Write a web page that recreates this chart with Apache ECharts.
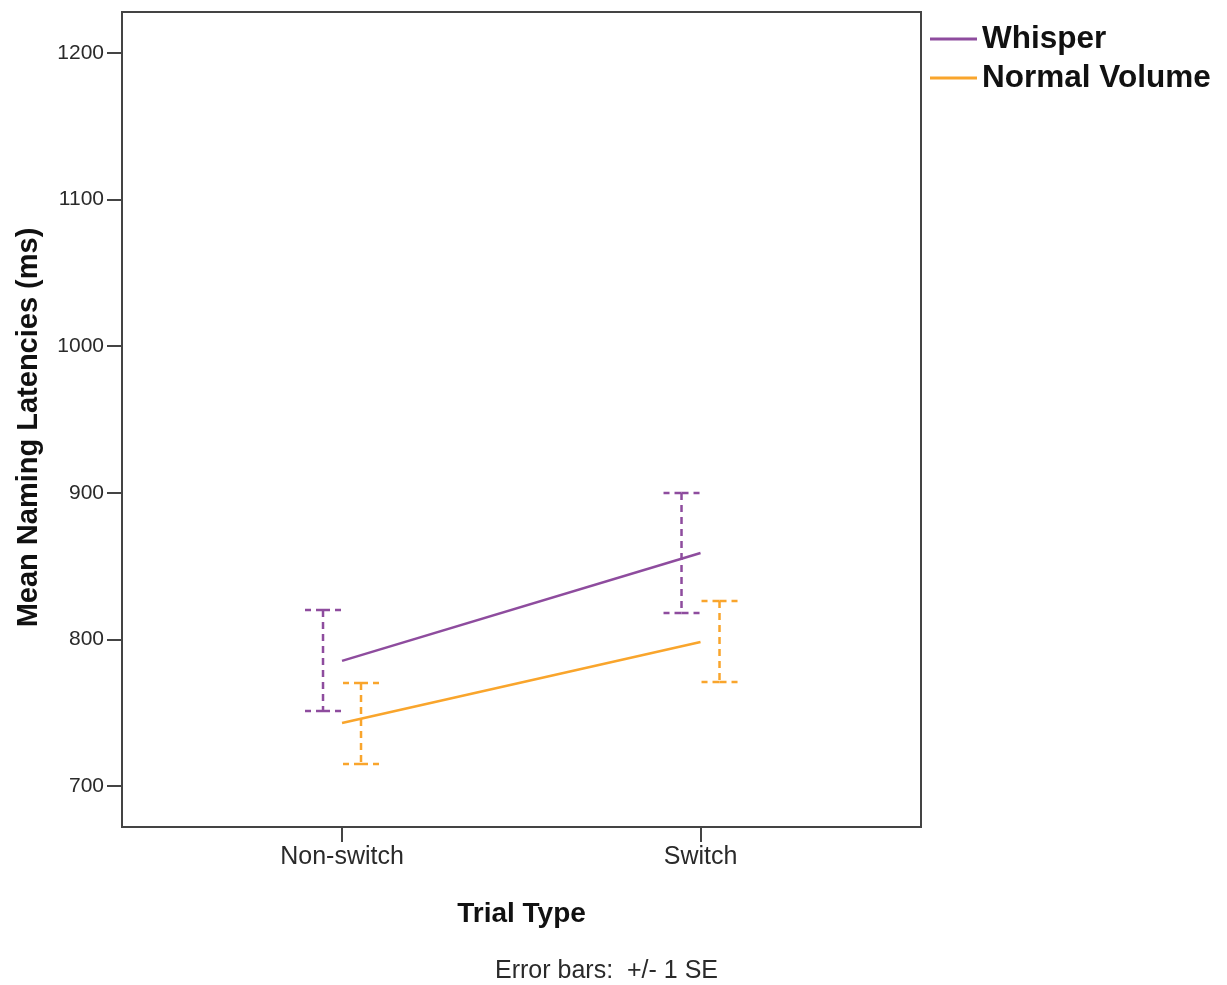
<!DOCTYPE html>
<html>
<head>
<meta charset="utf-8">
<title>Mean Naming Latencies by Trial Type</title>
<script src="https://cdn.jsdelivr.net/npm/echarts@6/dist/echarts.min.js"></script>
<style>
  html, body { margin: 0; padding: 0; background: #ffffff; }
  #chart { width: 1227px; height: 985px; }
</style>
</head>
<body>
<div id="chart"></div>
<script>
// Trial types, placed at x = 0 and x = 1 on the value axis
const trialTypes = ['Non-switch', 'Switch'];
const seriesNames = ['Whisper', 'Normal Volume'];

// Mean naming latencies (ms)
const whisperMeans = [785.3, 858.9];
const normalMeans = [743.0, 798.2];

// Error bars: mean -/+ 1 SE
const whisperLow = [751.2, 818.0];
const whisperHigh = [820.1, 899.9];
const normalLow = [715.0, 770.9];
const normalHigh = [770.3, 826.2];

const yTicks = [700, 800, 900, 1000, 1100, 1200];

const COLORS = { whisper: '#8e4c9e', normal: '#f9a52c', frame: '#444444', text: '#111111' };
const FONT = '"Liberation Sans", Arial, Helvetica, sans-serif';

const chart = echarts.init(document.getElementById('chart'), null, { renderer: 'canvas' });

function linePoints(means) {
  return means.map((v, i) => [i, v]);
}
function barPoints(low, high) {
  return low.map((v, i) => [i, v, high[i]]);
}

// Dashed I-shaped error bar, shifted sideways by a pixel offset
function makeErrorBar(color, offset) {
  return function (params, api) {
    const x = api.value(0);
    const top = api.coord([x, api.value(2)]);
    const bot = api.coord([x, api.value(1)]);
    const cx = top[0] + offset;
    const cap = 18;
    const style = { stroke: color, lineWidth: 2.5, lineDash: [7, 5], fill: null };
    const seg = (x1, y1, x2, y2) => ({ type: 'line', shape: { x1, y1, x2, y2 }, style });
    return {
      type: 'group',
      children: [
        seg(cx, top[1], cx, bot[1]),
        seg(cx, top[1], cx - cap, top[1]),
        seg(cx, top[1], cx + cap, top[1]),
        seg(cx, bot[1], cx - cap, bot[1]),
        seg(cx, bot[1], cx + cap, bot[1])
      ]
    };
  };
}

const option = {
  backgroundColor: '#ffffff',
  animation: false,
  grid: {
    left: 122, top: 12, right: 306, bottom: 158,
    show: true, borderColor: COLORS.frame, borderWidth: 2, backgroundColor: 'transparent'
  },
  legend: {
    orient: 'vertical',
    left: 925, top: 16,
    icon: 'rect',
    itemWidth: 47, itemHeight: 3, itemGap: 3,
    data: seriesNames,
    textStyle: { fontFamily: FONT, fontSize: 31.5, fontWeight: 'bold', color: COLORS.text, lineHeight: 36, padding: [0, 0, 0, 0] }
  },
  xAxis: {
    type: 'value',
    min: -0.6137, max: 1.615,
    name: 'Trial Type',
    nameLocation: 'middle',
    nameGap: 73,
    nameTextStyle: { fontFamily: FONT, fontSize: 28, fontWeight: 'bold', color: COLORS.text },
    splitLine: { show: false },
    axisLine: { show: true, onZero: false, lineStyle: { color: COLORS.frame, width: 2 } },
    axisTick: { show: true, length: 15, customValues: [0, 1], lineStyle: { color: COLORS.frame, width: 2 } },
    axisLabel: {
      customValues: [0, 1], margin: 18,
      fontFamily: FONT, fontSize: 25, color: '#2a2a2a',
      formatter: v => trialTypes[Math.round(v)] || ''
    }
  },
  yAxis: {
    type: 'value',
    min: 672, max: 1228,
    name: 'Mean Naming Latencies (ms)',
    nameLocation: 'middle',
    nameRotate: 90,
    nameGap: 79,
    nameTextStyle: { fontFamily: FONT, fontSize: 29, fontWeight: 'bold', color: COLORS.text, padding: [0, 16, 0, 0] },
    splitLine: { show: false },
    axisLine: { show: true, onZero: false, lineStyle: { color: COLORS.frame, width: 2 } },
    axisTick: { show: true, length: 15, customValues: yTicks, lineStyle: { color: COLORS.frame, width: 2 } },
    axisLabel: {
      customValues: yTicks, margin: 18,
      fontFamily: FONT, fontSize: 21, color: '#2a2a2a',
      formatter: v => String(Math.round(v))
    }
  },
  series: [
    {
      name: seriesNames[0], type: 'line', data: linePoints(whisperMeans),
      symbol: 'none', color: COLORS.whisper,
      lineStyle: { color: COLORS.whisper, width: 2.5 }, z: 3
    },
    {
      name: seriesNames[1], type: 'line', data: linePoints(normalMeans),
      symbol: 'none', color: COLORS.normal,
      lineStyle: { color: COLORS.normal, width: 2.5 }, z: 3
    },
    {
      name: 'whisper-se', type: 'custom', data: barPoints(whisperLow, whisperHigh),
      encode: { x: 0, y: [1, 2] }, renderItem: makeErrorBar(COLORS.whisper, -19), z: 2, silent: true
    },
    {
      name: 'normal-se', type: 'custom', data: barPoints(normalLow, normalHigh),
      encode: { x: 0, y: [1, 2] }, renderItem: makeErrorBar(COLORS.normal, 19), z: 2, silent: true
    }
  ],
  graphic: [
    {
      type: 'text',
      style: { text: 'Error bars:  +/- 1 SE', fontFamily: FONT, fontSize: 25, fill: '#2a2a2a' },
      left: 495, top: 959
    }
  ]
};

chart.setOption(option);
</script>
</body>
</html>
